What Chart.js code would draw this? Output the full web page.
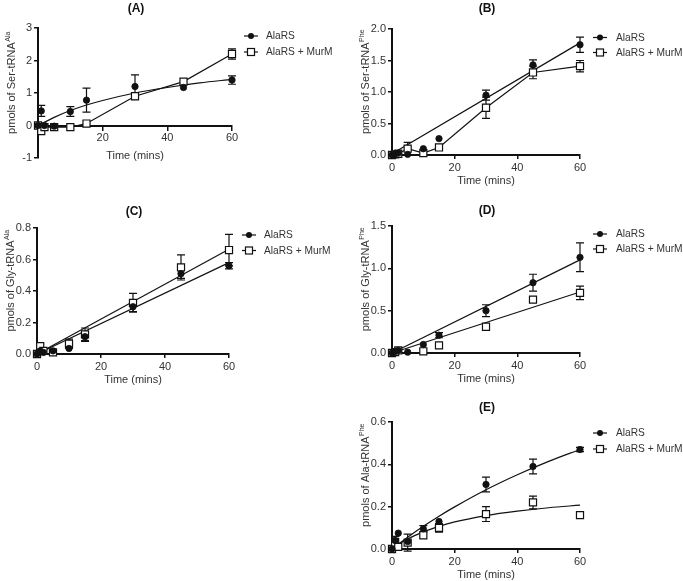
<!DOCTYPE html>
<html>
<head>
<meta charset="utf-8">
<title>AlaRS / AlaRS + MurM time courses</title>
<script src="https://cdn.jsdelivr.net/npm/chart.js@4.4.0/dist/chart.umd.min.js"></script>
<style>
  html, body { margin: 0; padding: 0; background: #fff; }
  #wrap { position: relative; width: 683px; height: 581px; overflow: hidden; }
  #wrap canvas { position: absolute; }
</style>
</head>
<body>
<div id="wrap">
  <canvas id="chartA" width="340" height="190" style="left:0px;top:0px"></canvas>
  <canvas id="chartB" width="343" height="195" style="left:340px;top:0px"></canvas>
  <canvas id="chartC" width="340" height="200" style="left:0px;top:195px"></canvas>
  <canvas id="chartD" width="343" height="200" style="left:340px;top:195px"></canvas>
  <canvas id="chartE" width="343" height="186" style="left:340px;top:395px"></canvas>
</div>
<script>
// sampling times (mins)
const times = [0, 1, 2, 5, 10, 15, 30, 45, 60];
const curveTimes = [0, 5, 10, 15, 20, 30, 40, 50, 60];
const lineTimes = [0, 60];
const seriesNames = ["AlaRS", "AlaRS + MurM"];

// (A) Ser-tRNA Ala
const serAla_alars = [0, 0.45, 0, -0.02, 0.43, 0.78, 1.2, 1.17, 1.4];
const serAla_alars_err = [0, 0.17, 0, 0, 0.15, 0.37, 0.36, 0, 0.13];
const serAla_murm = [0, -0.17, -0.05, -0.05, -0.05, 0.06, 0.9, 1.35, 2.2];
const serAla_murm_err = [0, 0, 0, 0, 0, 0, 0.1, 0, 0.16];
const serAla_alars_curve = [0, 0.25, 0.46, 0.63, 0.77, 1.0, 1.17, 1.31, 1.42];

// (B) Ser-tRNA Phe
const serPhe_alars = [0, 0.02, 0.03, 0.01, 0.1, 0.26, 0.95, 1.43, 1.75];
const serPhe_alars_err = [0, 0, 0, 0, 0, 0, 0.08, 0.08, 0.12];
const serPhe_murm = [0, 0.01, 0.02, 0.1, 0.03, 0.12, 0.75, 1.31, 1.41];
const serPhe_murm_err = [0, 0, 0, 0.1, 0, 0, 0.17, 0.1, 0.09];
const serPhe_alars_line = [0.02, 1.78];

// (C) Gly-tRNA Ala
const glyAla_alars = [0, 0.02, 0.01, 0.02, 0.035, 0.11, 0.3, 0.51, 0.56];
const glyAla_alars_err = [0, 0, 0, 0, 0, 0.03, 0.03, 0.03, 0.02];
const glyAla_murm = [0, 0.05, 0.02, 0.01, 0.065, 0.125, 0.325, 0.55, 0.66];
const glyAla_murm_err = [0, 0, 0, 0, 0.03, 0.04, 0.06, 0.08, 0.1];
const glyAla_alars_line = [0, 0.58];
const glyAla_murm_line = [0, 0.665];

// (D) Gly-tRNA Phe
const glyPhe_alars = [0, 0.02, 0.03, 0.01, 0.1, 0.21, 0.5, 0.83, 1.13];
const glyPhe_alars_err = [0, 0, 0, 0, 0, 0.03, 0.07, 0.1, 0.17];
const glyPhe_murm = [0, 0.01, 0.03, null, 0.02, 0.09, 0.31, 0.63, 0.71];
const glyPhe_murm_err = [0, 0, 0, 0, 0, 0, 0, 0.03, 0.08];
const glyPhe_alars_line = [0, 1.1];
const glyPhe_murm_line = [0, 0.72];

// (E) Ala-tRNA Phe
const alaPhe_alars = [0, 0.04, 0.075, 0.035, 0.095, 0.13, 0.305, 0.39, 0.47];
const alaPhe_alars_err = [0, 0.02, 0, 0, 0.015, 0, 0.035, 0.035, 0.01];
const alaPhe_murm = [0, 0.03, 0.01, 0.03, 0.065, 0.1, 0.165, 0.22, 0.16];
const alaPhe_murm_err = [0, 0.02, 0, 0.04, 0, 0.02, 0.035, 0.03, 0];
const alaPhe_alars_curve = [0, 0.055, 0.107, 0.155, 0.199, 0.28, 0.351, 0.414, 0.47];
const alaPhe_murm_curve = [0, 0.047, 0.081, 0.107, 0.128, 0.158, 0.179, 0.195, 0.207];

const INK = '#111';
const TXT = '#333';
const FONT = '"Liberation Sans", Arial, Helvetica, sans-serif';
const X_AXIS_H = 33;
Chart.defaults.font.family = FONT;

function pts(xs, ys) {
    return xs.map(function (x, i) { return { x: x, y: ys[i] }; });
}

// vertical error bars, drawn under the symbols
const errorBars = {
    id: 'errorBars',
    beforeDatasetsDraw(chart) {
        const ctx = chart.ctx, xs = chart.scales.x, ys = chart.scales.y;
        ctx.save();
        ctx.strokeStyle = INK;
        ctx.lineWidth = 1.2;
        chart.data.datasets.forEach(function (ds) {
            if (!ds.err) return;
            ds.data.forEach(function (p, i) {
                const e = ds.err[i];
                if (!e || p.y == null) return;
                const x = xs.getPixelForValue(p.x);
                const y1 = ys.getPixelForValue(p.y + e);
                const y2 = ys.getPixelForValue(p.y - e);
                ctx.beginPath();
                ctx.moveTo(x, y1); ctx.lineTo(x, y2);
                ctx.moveTo(x - 4, y1); ctx.lineTo(x + 4, y1);
                ctx.moveTo(x - 4, y2); ctx.lineTo(x + 4, y2);
                ctx.stroke();
            });
        });
        ctx.restore();
    }
};

// panel letter, y title with superscript, legend
const panelDeco = {
    id: 'panelDeco',
    afterDraw(chart, args, o) {
        const ctx = chart.ctx, a = chart.chartArea;
        ctx.save();
        ctx.fillStyle = INK;
        ctx.textAlign = 'center';
        ctx.textBaseline = 'middle';
        ctx.font = 'bold 12px ' + FONT;
        ctx.fillText(o.letter, (a.left + a.right) / 2 + 1, o.titleY);

        // y title
        ctx.save();
        ctx.fillStyle = TXT;
        ctx.translate(a.left - 26, (a.top + a.bottom) / 2 - 10);
        ctx.rotate(-Math.PI / 2);
        ctx.textAlign = 'left';
        ctx.font = '11px ' + FONT;
        const w1 = ctx.measureText(o.yTitle).width;
        ctx.font = '7px ' + FONT;
        const w2 = ctx.measureText(o.ySup).width;
        const start = -(w1 + w2) / 2;
        ctx.font = '11px ' + FONT;
        ctx.fillText(o.yTitle, start, 0);
        ctx.font = '7px ' + FONT;
        ctx.fillText(o.ySup, start + w1 + 0.5, -4);
        ctx.restore();

        // legend
        ctx.strokeStyle = INK;
        ctx.lineWidth = 1.2;
        ctx.textAlign = 'left';
        ctx.font = '10.2px ' + FONT;
        o.legend.rows.forEach(function (ry, i) {
            const lx = o.legend.lx;
            ctx.beginPath();
            ctx.moveTo(lx, ry); ctx.lineTo(lx + 14, ry);
            ctx.stroke();
            const mx = lx + 7;
            if (i === 0) {
                ctx.fillStyle = INK;
                ctx.beginPath();
                ctx.arc(mx, ry, 3, 0, Math.PI * 2);
                ctx.fill();
            } else {
                ctx.fillStyle = '#fff';
                ctx.fillRect(mx - 3.5, ry - 3.5, 7, 7);
                ctx.strokeRect(mx - 3.5, ry - 3.5, 7, 7);
            }
            ctx.fillStyle = TXT;
            ctx.fillText(seriesNames[i], o.legend.tx, ry + 0.5);
        });
        ctx.restore();
    }
};

function pointSet(label, data, err, square, joined) {
    return {
        label: label,
        data: data,
        err: err,
        showLine: joined,
        borderColor: INK,
        borderWidth: 1.2,
        pointStyle: square ? 'rect' : 'circle',
        pointRadius: square ? 5 : 3.2,
        pointHoverRadius: square ? 5 : 3.2,
        pointBackgroundColor: square ? '#fff' : INK,
        pointBorderColor: INK,
        pointBorderWidth: square ? 1.2 : 0.8,
        clip: false,
        order: square ? 1 : 0
    };
}

function fitSet(data) {
    return {
        label: 'fit',
        data: data,
        showLine: true,
        borderColor: INK,
        borderWidth: 1.2,
        pointRadius: 0,
        pointHoverRadius: 0,
        cubicInterpolationMode: 'monotone',
        clip: false,
        order: 5
    };
}

function makePanel(id, p) {
    // p.box: canvas page box, p.area: chart area in page coords
    const W = p.box.w, H = p.box.h;
    const left = p.area.l - p.box.x, right = p.area.r - p.box.x;
    const top = p.area.t - p.box.y, bottom = p.area.b - p.box.y;
    const zeroAxis = !!p.zeroAxis;
    const legend = {
        lx: p.legend.lx - p.box.x,
        tx: p.legend.tx - p.box.x,
        rows: p.legend.rows.map(function (r) { return r - p.box.y; })
    };
    return new Chart(document.getElementById(id).getContext('2d'), {
        type: 'scatter',
        data: { datasets: p.datasets },
        plugins: [errorBars, panelDeco],
        options: {
            responsive: false,
            animation: false,
            events: [],
            layout: { padding: { top: top, right: W - right, bottom: zeroAxis ? H - bottom : H - bottom - X_AXIS_H, left: 0 } },
            plugins: {
                legend: { display: false },
                tooltip: { enabled: false },
                title: { display: false },
                panelDeco: {
                    letter: p.letter,
                    titleY: p.titleY - p.box.y,
                    yTitle: p.yTitle,
                    ySup: p.ySup,
                    legend: legend
                }
            },
            scales: {
                x: {
                    type: 'linear',
                    min: 0, max: 60,
                    position: zeroAxis ? { y: 0 } : 'bottom',
                    ticks: {
                        stepSize: 20,
                        autoSkip: false,
                        maxRotation: 0,
                        color: TXT,
                        padding: 2,
                        font: { size: 11 },
                        callback: function (v) { return (zeroAxis && v === 0) ? '' : v; }
                    },
                    grid: { drawOnChartArea: false, drawTicks: true, tickLength: 4, color: INK, lineWidth: 1.5 },
                    border: { display: true, color: INK, width: 2 },
                    title: { display: true, text: 'Time (mins)', color: TXT, font: { size: 11 }, padding: { top: 3, bottom: 0 } },
                    afterFit: function (s) { if (!zeroAxis) s.height = X_AXIS_H; }
                },
                y: {
                    type: 'linear',
                    min: p.yMin, max: p.yMax,
                    ticks: {
                        stepSize: p.yStep,
                        autoSkip: false,
                        color: TXT,
                        padding: 2,
                        font: { size: 11 },
                        callback: function (v) { return v.toFixed(p.yDec); }
                    },
                    grid: { drawOnChartArea: false, drawTicks: true, tickLength: 4, color: INK, lineWidth: 1.5 },
                    border: { display: true, color: INK, width: 2 },
                    afterFit: function (s) { s.width = left; }
                }
            }
        }
    });
}

makePanel('chartA', {
    box: { x: 0, y: 0, w: 340, h: 190 },
    area: { l: 38, r: 232, t: 28, b: 158 },
    zeroAxis: true,
    letter: '(A)', titleY: 9,
    yTitle: 'pmols of Ser-tRNA', ySup: 'Ala',
    yMin: -1, yMax: 3, yStep: 1, yDec: 0,
    legend: { lx: 244, tx: 266, rows: [36, 52] },
    datasets: [
        pointSet(seriesNames[0], pts(times, serAla_alars), serAla_alars_err, false, false),
        pointSet(seriesNames[1], pts(times, serAla_murm), serAla_murm_err, true, true),
        fitSet(pts(curveTimes, serAla_alars_curve))
    ]
});

makePanel('chartB', {
    box: { x: 340, y: 0, w: 343, h: 195 },
    area: { l: 392, r: 580, t: 29, b: 155 },
    letter: '(B)', titleY: 9,
    yTitle: 'pmols of Ser-tRNA', ySup: 'Phe',
    yMin: 0, yMax: 2, yStep: 0.5, yDec: 1,
    legend: { lx: 593, tx: 616, rows: [37.5, 52.5] },
    datasets: [
        pointSet(seriesNames[0], pts(times, serPhe_alars), serPhe_alars_err, false, false),
        pointSet(seriesNames[1], pts(times, serPhe_murm), serPhe_murm_err, true, true),
        fitSet(pts(lineTimes, serPhe_alars_line))
    ]
});

makePanel('chartC', {
    box: { x: 0, y: 195, w: 340, h: 200 },
    area: { l: 37, r: 229, t: 228, b: 354 },
    letter: '(C)', titleY: 212,
    yTitle: 'pmols of Gly-tRNA', ySup: 'Ala',
    yMin: 0, yMax: 0.8, yStep: 0.2, yDec: 1,
    legend: { lx: 242, tx: 264, rows: [235, 250.5] },
    datasets: [
        pointSet(seriesNames[0], pts(times, glyAla_alars), glyAla_alars_err, false, false),
        pointSet(seriesNames[1], pts(times, glyAla_murm), glyAla_murm_err, true, false),
        fitSet(pts(lineTimes, glyAla_alars_line)),
        fitSet(pts(lineTimes, glyAla_murm_line))
    ]
});

makePanel('chartD', {
    box: { x: 340, y: 195, w: 343, h: 200 },
    area: { l: 392, r: 580, t: 226, b: 353 },
    letter: '(D)', titleY: 211,
    yTitle: 'pmols of Gly-tRNA', ySup: 'Phe',
    yMin: 0, yMax: 1.5, yStep: 0.5, yDec: 1,
    legend: { lx: 593, tx: 616, rows: [234, 249] },
    datasets: [
        pointSet(seriesNames[0], pts(times, glyPhe_alars), glyPhe_alars_err, false, false),
        pointSet(seriesNames[1], pts(times, glyPhe_murm), glyPhe_murm_err, true, false),
        fitSet(pts(lineTimes, glyPhe_alars_line)),
        fitSet(pts(lineTimes, glyPhe_murm_line))
    ]
});

makePanel('chartE', {
    box: { x: 340, y: 395, w: 343, h: 186 },
    area: { l: 392, r: 580, t: 422, b: 549 },
    letter: '(E)', titleY: 408,
    yTitle: 'pmols of Ala-tRNA', ySup: 'Phe',
    yMin: 0, yMax: 0.6, yStep: 0.2, yDec: 1,
    legend: { lx: 593, tx: 616, rows: [433, 449] },
    datasets: [
        pointSet(seriesNames[0], pts(times, alaPhe_alars), alaPhe_alars_err, false, false),
        pointSet(seriesNames[1], pts(times, alaPhe_murm), alaPhe_murm_err, true, false),
        fitSet(pts(curveTimes, alaPhe_alars_curve)),
        fitSet(pts(curveTimes, alaPhe_murm_curve))
    ]
});
</script>
</body>
</html>
